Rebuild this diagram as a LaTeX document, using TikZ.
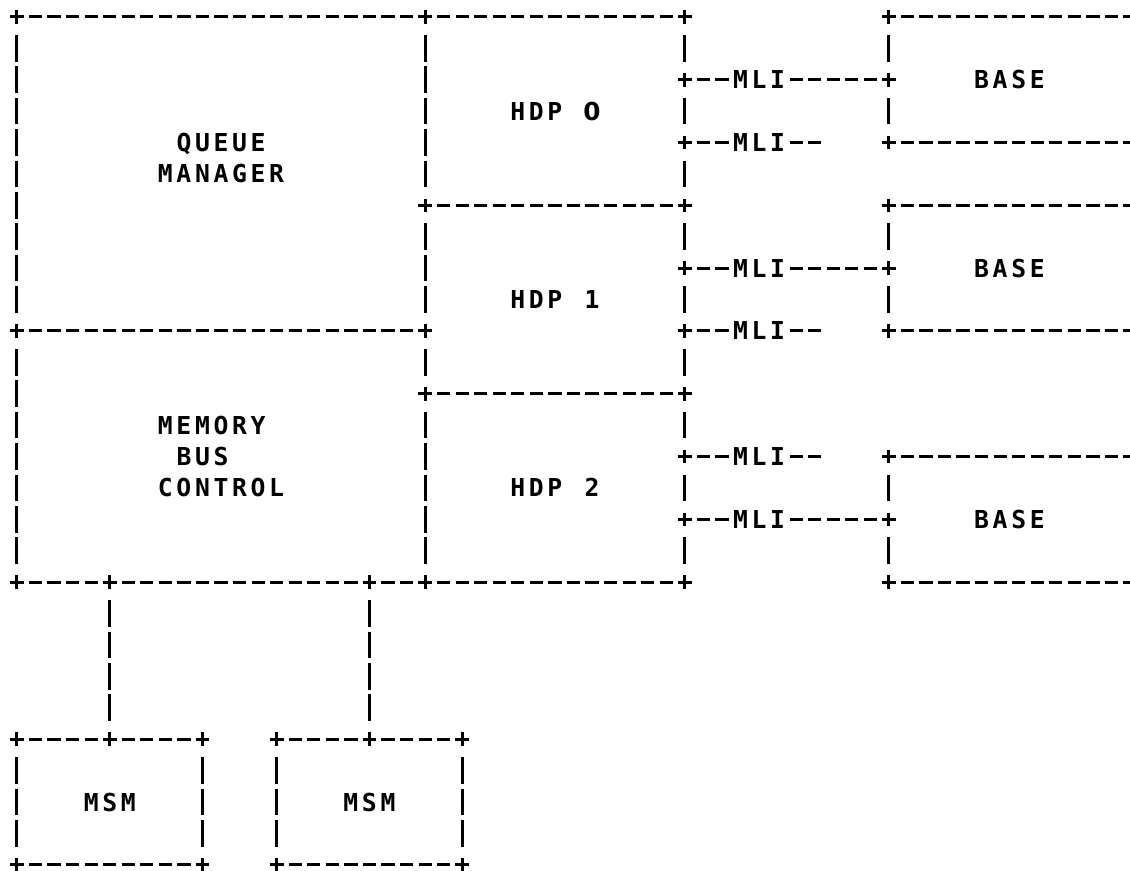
\documentclass[tikz,border=0pt]{standalone}
\usepackage{fontspec}
\newfontfamily\asc{DejaVu Sans Mono}
\newfontfamily\dvs{DejaVu Sans}
\newlength\cw \setlength\cw{9.275pt}
\makeatletter
\def\mono#1{\mono@loop#1\relax}
\def\mono@loop#1{\ifx\relax#1\else\makebox[\cw]{#1}\expandafter\mono@loop\fi}
\makeatother
\tikzset{
  hdash/.style={line width=1.5pt, dash pattern=on 6.6pt off 2.675pt},
  vdash/.style={line width=1.5pt, dash pattern=on 13.3pt off 2.4pt},
  cross/.style={line width=1.5pt},
  lbl/.style={inner sep=0pt, text height=9pt, text depth=0pt,
    font=\asc\bfseries\fontsize{12.35}{12.35}\selectfont}
}
% row, first col, last col
\newcommand\HD[3]{\draw[hdash] ({#2-0.3558},#1) -- ({#3+0.3558},#1);}
% col, first row, last row
\newcommand\VD[3]{\draw[vdash] (#1,{#2-0.4236}) -- (#1,{#3+0.4236});}
% row, col
\newcommand\PL[2]{\coordinate (j-#1-#2) at (#2,#1);
  \draw[cross] ([xshift=-3.4pt]j-#1-#2) -- ([xshift=3.4pt]j-#1-#2)
               ([yshift=-3.4pt]j-#1-#2) -- ([yshift=3.4pt]j-#1-#2);}
\begin{document}
\begin{tikzpicture}[x=9.275pt, y=-15.7pt]
\useasboundingbox (-8.5pt,8.5pt) rectangle (556.5pt,-427pt);
\clip (-8.5pt,8.5pt) rectangle (556.5pt,-427pt);
% junction crosses
\foreach \c in {0,22,36,47} {\PL{0}{\c}}
\foreach \r in {2,4,8,14,16} {\PL{\r}{36}\PL{\r}{47}}
\foreach \c in {22,36,47} {\PL{6}{\c}}
\foreach \c in {0,22,36,47} {\PL{10}{\c}}
\foreach \c in {22,36} {\PL{12}{\c}}
\foreach \c in {0,5,19,22,36,47} {\PL{18}{\c}}
\foreach \c in {0,5,10,14,19,24} {\PL{23}{\c}}
\foreach \c in {0,10,14,24} {\PL{27}{\c}}
% horizontal dashes
\HD{0}{1}{21}\HD{0}{23}{35}\HD{0}{48}{60}
\HD{2}{37}{38}\HD{2}{42}{46}
\HD{4}{37}{38}\HD{4}{42}{43}\HD{4}{48}{60}
\HD{6}{23}{35}\HD{6}{48}{60}
\HD{8}{37}{38}\HD{8}{42}{46}
\HD{10}{1}{21}\HD{10}{37}{38}\HD{10}{42}{43}\HD{10}{48}{60}
\HD{12}{23}{35}
\HD{14}{37}{38}\HD{14}{42}{43}\HD{14}{48}{60}
\HD{16}{37}{38}\HD{16}{42}{46}
\HD{18}{1}{4}\HD{18}{6}{18}\HD{18}{20}{21}\HD{18}{23}{35}\HD{18}{48}{60}
\HD{23}{1}{4}\HD{23}{6}{9}\HD{23}{15}{18}\HD{23}{20}{23}
\HD{27}{1}{9}\HD{27}{15}{23}
% vertical bars
\VD{0}{1}{9}\VD{0}{11}{17}
\VD{22}{1}{5}\VD{22}{7}{9}\VD{22}{11}{11}\VD{22}{13}{17}
\foreach \r in {1,3,...,17} {\VD{36}{\r}{\r}}
\foreach \r in {1,3,7,9,15,17} {\VD{47}{\r}{\r}}
\VD{5}{19}{22}\VD{19}{19}{22}
\VD{0}{24}{26}\VD{10}{24}{26}\VD{14}{24}{26}\VD{24}{24}{26}
% labels
\node[lbl] (qm1) at (11,4) {\mono{QUEUE}};
\node[lbl] (qm2) at (11,5) {\mono{MANAGER}};
\node[lbl] (mbc1) at (10.5,13) {\mono{MEMORY}};
\node[lbl] (mbc2) at (10,14) {\mono{BUS}};
\node[lbl] (mbc3) at (11,15) {\mono{CONTROL}};
\node[lbl] (hdp0) at (29,3) {\mono{HDP~{\dvs 0}}};
\node[lbl] (hdp1) at (29,9) {\mono{HDP~1}};
\node[lbl] (hdp2) at (29,15) {\mono{HDP~2}};
\node[lbl] (base0) at (53.5,2) {\mono{BASE}};
\node[lbl] (base1) at (53.5,8) {\mono{BASE}};
\node[lbl] (base2) at (53.5,16) {\mono{BASE}};
\foreach \r in {2,4,8,10,14,16} {\node[lbl] (mli-\r) at (40,\r) {\mono{MLI}};}
\node[lbl] (msm0) at (5,25) {\mono{MSM}};
\node[lbl] (msm1) at (19,25) {\mono{MSM}};
\end{tikzpicture}
\end{document}
